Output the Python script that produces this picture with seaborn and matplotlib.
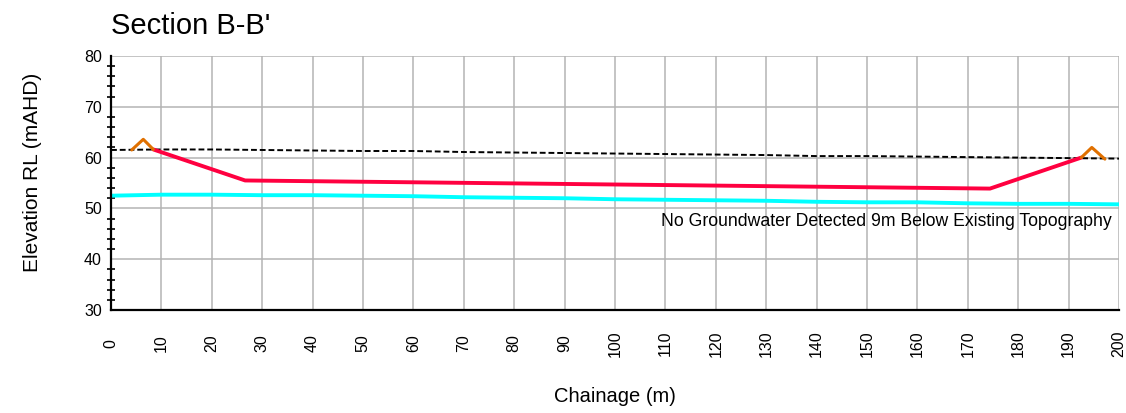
import numpy as np
import pandas as pd
import matplotlib
matplotlib.use("Agg")
import matplotlib.pyplot as plt
import seaborn as sns
from matplotlib.ticker import MultipleLocator

# existing topography (dashed)
topo_ch = [0, 10, 20, 30, 40, 50, 60, 70, 80, 90, 100, 110, 120, 130, 140, 150, 160, 170, 180, 190, 200]
topo_rl = [61.5, 61.6, 61.6, 61.5, 61.4, 61.3, 61.3, 61.1, 61.0, 60.9, 60.8, 60.7, 60.6, 60.5, 60.3, 60.3, 60.2, 60.1, 60.0, 59.9, 59.8]

# groundwater line (cyan)
gw_ch = [0, 10, 20, 30, 40, 50, 60, 70, 80, 90, 100, 110, 120, 130, 140, 150, 160, 170, 180, 190, 200]
gw_rl = [52.5, 52.7, 52.7, 52.6, 52.6, 52.5, 52.4, 52.2, 52.1, 52.0, 51.8, 51.7, 51.6, 51.5, 51.3, 51.2, 51.2, 51.0, 50.9, 50.9, 50.8]

# design surface (red)
design_ch = [8.4, 26.6, 174.4, 192.5]
design_rl = [61.6, 55.5, 53.9, 60.0]

# batter / bund crests (orange)
bund_left_ch = [4.1, 6.4, 8.4]
bund_left_rl = [61.5, 63.6, 61.6]
bund_right_ch = [192.5, 194.6, 197.2]
bund_right_rl = [60.0, 62.0, 59.7]

note = "No Groundwater Detected 9m Below Existing Topography"

sns.set_style("white")
plt.rcParams["font.family"] = ["Liberation Sans", "DejaVu Sans"]
plt.rcParams["text.color"] = "black"
plt.rcParams["axes.labelcolor"] = "black"
plt.rcParams["xtick.color"] = "black"
plt.rcParams["ytick.color"] = "black"

fig = plt.figure(figsize=(11.26, 4.13), dpi=100)
ax = fig.add_axes([0.0986, 0.2494, 0.8952, 0.615])

sns.lineplot(x=topo_ch, y=topo_rl, ax=ax, color="black", lw=1.4, linestyle=(0, (3, 1.5)))
sns.lineplot(x=gw_ch, y=gw_rl, ax=ax, color="#00FFFF", lw=2.8)
sns.lineplot(x=design_ch, y=design_rl, ax=ax, color="#FF0040", lw=2.8)
sns.lineplot(x=bund_left_ch, y=bund_left_rl, ax=ax, color="#E07000", lw=2.2)
sns.lineplot(x=bund_right_ch, y=bund_right_rl, ax=ax, color="#E07000", lw=2.2)

ax.text(198.6, 47.5, note, ha="right", va="center", fontsize=12.7)

ax.set_xlim(0, 200)
ax.set_ylim(30, 80)
ax.xaxis.set_major_locator(MultipleLocator(10))
ax.yaxis.set_major_locator(MultipleLocator(10))
ax.yaxis.set_minor_locator(MultipleLocator(2))
ax.grid(True, which="major", color="#b4b4b4", lw=1.1)
ax.set_axisbelow(True)

for s in ["top", "right"]:
    ax.spines[s].set_visible(False)
for s in ["left", "bottom"]:
    ax.spines[s].set_color("black")
    ax.spines[s].set_linewidth(1.6)

ax.tick_params(axis="y", which="major", direction="inout", length=9, width=1.4, labelsize=11.5, pad=2)
ax.tick_params(axis="y", which="minor", direction="inout", length=6, width=1.2, left=True)
ax.tick_params(axis="x", which="major", direction="out", length=5, width=1.4, labelsize=11.5, labelrotation=90, pad=19)
for lbl in ax.get_xticklabels():
    lbl.set_verticalalignment("center")

ax.set_xlabel("Chainage (m)", fontsize=14.5, labelpad=22)
ax.set_ylabel("Elevation RL (mAHD)", fontsize=15)
ax.yaxis.set_label_coords(-0.068, 0.54)
ax.set_title("Section B-B'", loc="left", fontsize=21, pad=16, x=0.0)

fig.savefig("out.png", dpi=100)
